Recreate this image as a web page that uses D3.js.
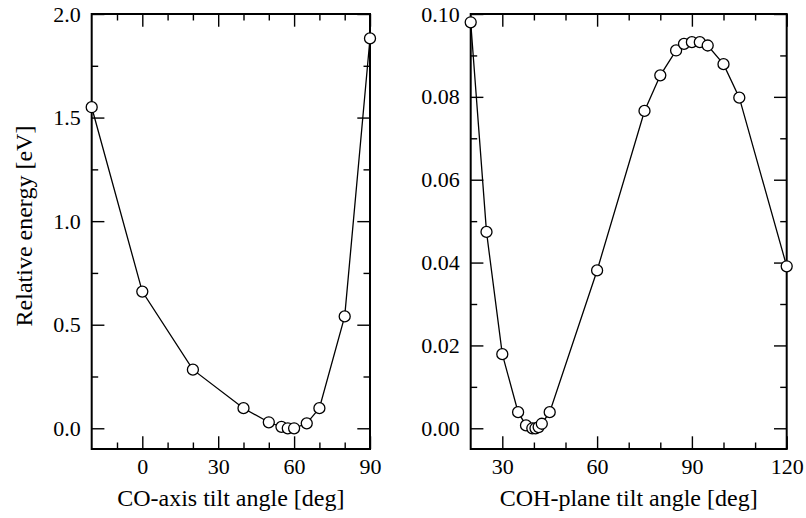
<!DOCTYPE html>
<html>
<head>
<meta charset="utf-8">
<script src="https://cdn.jsdelivr.net/npm/d3@7"></script>
<style>
  html, body { margin: 0; padding: 0; background: #fff; }
</style>
</head>
<body>
<svg id="chart" width="806" height="518"></svg>
<script>
// ---- Data ----
const leftAngles   = [-20, 0, 20, 40, 50, 55, 57.5, 60, 65, 70, 80, 90];
const leftEnergies = [1.55, 0.66, 0.283, 0.097, 0.029, 0.007, 0.0, 0.0, 0.024, 0.097, 0.54, 1.882];

const rightAngles   = [20, 25, 30, 35, 37.5, 39.5, 40.5, 41.5, 42.5, 45, 60, 75, 80, 85, 87.5, 90, 92.5, 95, 100, 105, 120];
const rightEnergies = [0.098, 0.0474, 0.0179, 0.0039, 0.0007, 0.0, 0.0, 0.0003, 0.0011, 0.0039, 0.0381, 0.0766, 0.0852, 0.0912, 0.0928, 0.0932, 0.0932, 0.0924, 0.0879, 0.0798, 0.0391];

const leftXMajor  = [0, 30, 60, 90];
const leftXMinor  = [-10, 10, 20, 40, 50, 70, 80];
const leftYMajor  = [0.0, 0.5, 1.0, 1.5, 2.0];
const leftYMinor  = [0.25, 0.75, 1.25, 1.75];

const rightXMajor = [30, 60, 90, 120];
const rightXMinor = [40, 50, 70, 80, 100, 110];
const rightYMajor = [0.00, 0.02, 0.04, 0.06, 0.08, 0.10];
const rightYMinor = [0.01, 0.03, 0.05, 0.07, 0.09];

const leftXLabel  = "CO-axis tilt angle [deg]";
const rightXLabel = "COH-plane tilt angle [deg]";
const yLabel      = "Relative energy [eV]";

// ---- Drawing ----
const FONT = "'Liberation Serif', 'Times New Roman', Times, serif";
const svg = d3.select("#chart").attr("font-family", FONT);
const TOP = 14, BOTTOM = 449;
const MAJ = 12.7, MIN = 6.5;
const TICK_FS = 22, TITLE_FS = 24;

function panel(opts) {
  const x = d3.scaleLinear().domain(opts.xDomain).range([opts.x0, opts.x1]);
  const y = d3.scaleLinear().domain(opts.yDomain).range([BOTTOM, TOP]);
  const g = svg.append("g");

  function styleAxis(sel, labels, fontSize) {
    sel.attr("font-family", FONT);
    sel.select(".domain").remove();
    sel.selectAll(".tick line").attr("stroke", "#000").attr("stroke-width", 1.4);
    if (!labels) sel.selectAll(".tick text").remove();
    else sel.selectAll(".tick text")
      .style("font-family", FONT)
      .style("font-size", fontSize + "px").attr("fill", "#000");
  }

  // bottom
  g.append("g").attr("transform", `translate(0,${BOTTOM})`)
    .call(d3.axisBottom(x).tickValues(opts.xMajor).tickSize(-MAJ).tickPadding(9).tickFormat(opts.xFmt))
    .call(s => styleAxis(s, true, TICK_FS));
  g.append("g").attr("transform", `translate(0,${BOTTOM})`)
    .call(d3.axisBottom(x).tickValues(opts.xMinor).tickSize(-MIN))
    .call(s => styleAxis(s, false));
  // top
  g.append("g").attr("transform", `translate(0,${TOP})`)
    .call(d3.axisTop(x).tickValues(opts.xMajor).tickSize(-MAJ))
    .call(s => styleAxis(s, false));
  g.append("g").attr("transform", `translate(0,${TOP})`)
    .call(d3.axisTop(x).tickValues(opts.xMinor).tickSize(-MIN))
    .call(s => styleAxis(s, false));
  // left
  g.append("g").attr("transform", `translate(${opts.x0},0)`)
    .call(d3.axisLeft(y).tickValues(opts.yMajor).tickSize(-MAJ).tickPadding(11).tickFormat(opts.yFmt))
    .call(s => styleAxis(s, true, TICK_FS));
  g.append("g").attr("transform", `translate(${opts.x0},0)`)
    .call(d3.axisLeft(y).tickValues(opts.yMinor).tickSize(-MIN))
    .call(s => styleAxis(s, false));
  // right
  g.append("g").attr("transform", `translate(${opts.x1},0)`)
    .call(d3.axisRight(y).tickValues(opts.yMajor).tickSize(-MAJ))
    .call(s => styleAxis(s, false));
  g.append("g").attr("transform", `translate(${opts.x1},0)`)
    .call(d3.axisRight(y).tickValues(opts.yMinor).tickSize(-MIN))
    .call(s => styleAxis(s, false));

  // frame
  g.append("rect")
    .attr("x", opts.x0).attr("y", TOP)
    .attr("width", opts.x1 - opts.x0).attr("height", BOTTOM - TOP)
    .attr("fill", "none").attr("stroke", "#000").attr("stroke-width", 2);

  const pts = opts.xs.map((v, i) => [v, opts.ys[i]]);
  g.append("path")
    .attr("d", d3.line().x(d => x(d[0])).y(d => y(d[1]))(pts))
    .attr("fill", "none").attr("stroke", "#000").attr("stroke-width", 1.3);
  g.selectAll("circle.pt").data(pts).enter().append("circle")
    .attr("class", "pt")
    .attr("cx", d => x(d[0])).attr("cy", d => y(d[1])).attr("r", 5.5)
    .attr("fill", "#fff").attr("stroke", "#000").attr("stroke-width", 1.3);

  g.append("text")
    .attr("x", (opts.x0 + opts.x1) / 2).attr("y", 506)
    .attr("text-anchor", "middle")
    .style("font-family", FONT).style("font-size", TITLE_FS + "px")
    .text(opts.xLabel);
}

panel({
  x0: 91.7, x1: 370, xDomain: [-20, 90], yDomain: [-0.1, 2.0],
  xMajor: leftXMajor, xMinor: leftXMinor, yMajor: leftYMajor, yMinor: leftYMinor,
  xFmt: d3.format("d"), yFmt: d3.format(".1f"),
  xs: leftAngles, ys: leftEnergies, xLabel: leftXLabel
});
panel({
  x0: 470.7, x1: 786.7, xDomain: [20, 120], yDomain: [-0.005, 0.10],
  xMajor: rightXMajor, xMinor: rightXMinor, yMajor: rightYMajor, yMinor: rightYMinor,
  xFmt: d3.format("d"), yFmt: d3.format(".2f"),
  xs: rightAngles, ys: rightEnergies, xLabel: rightXLabel
});

svg.append("text")
  .attr("transform", `translate(32,226) rotate(-90)`)
  .attr("text-anchor", "middle")
  .style("font-family", FONT).style("font-size", TITLE_FS + "px")
  .text(yLabel);
</script>
</body>
</html>
